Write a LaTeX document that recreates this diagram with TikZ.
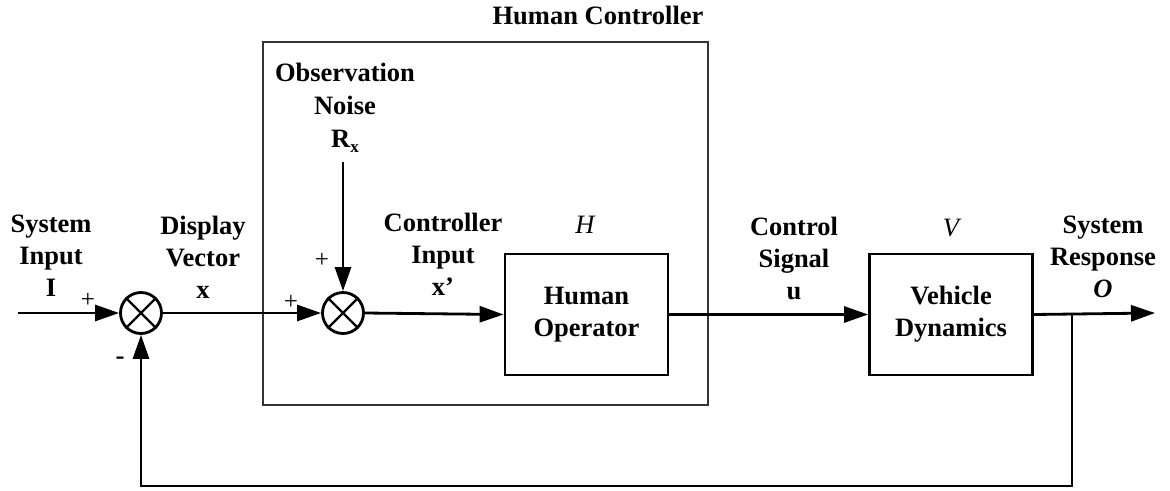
\documentclass[tikz,border=0pt]{standalone}
\usepackage{fontspec}
\setmainfont{Liberation Serif}
\usetikzlibrary{arrows.meta}
\begin{document}
\begin{tikzpicture}[x=1pt,y=-1pt,
  lbl/.style={font=\fontsize{26.5}{32}\selectfont\bfseries, align=center, inner sep=0pt},
  sgn/.style={font=\fontsize{25}{25}\selectfont, inner sep=0pt},
  sig/.style={line width=2.8pt},
  arr/.style={sig,-{Triangle[length=24pt,width=16pt]}},
  blk/.style={draw, line width=2.8pt, minimum width=163pt, minimum height=121pt, inner sep=0pt},
  sumnode/.style={draw, circle, line width=2.8pt, minimum size=41pt, inner sep=0pt},
  hcbox/.style={draw=black!80, line width=1.3pt}]
\useasboundingbox (0,0) rectangle (1170,490);

% Human controller frame
\draw[hcbox] (263,42) rectangle (708,405);
\node[lbl] (hctitle) at (598,15) {Human Controller};

% summing junctions
\node[sumnode] (s1) at (141,313) {};
\node[sumnode] (s2) at (343,313) {};
\foreach \s in {s1,s2}{
  \draw[line width=2.2pt] (\s.45) -- (\s.225);
  \draw[line width=2.2pt] (\s.135) -- (\s.315);
}

% blocks
\node[blk, align=center, font=\fontsize{26.5}{32}\selectfont\bfseries] (ho) at (586.5,314.5) {Human\\Operator};
\node[blk, align=center, font=\fontsize{26.5}{32}\selectfont\bfseries] (vd) at (951,314.5) {Vehicle\\Dynamics};

% labels
\node[lbl] (sysin) at (51,256) {System\\Input\\I};
\node[lbl] (disp) at (203,257) {Display\\Vector\\x};
\node[lbl, font=\fontsize{26.5}{33}\selectfont\bfseries] (obs) at (345,108) {Observation\\Noise\\R\raisebox{-5pt}{\fontsize{17}{17}\selectfont x}};
\node[lbl] (ctrlin) at (443,254) {Controller\\Input\\x’};
\node[lbl] (ctrlsig) at (794,258) {Control\\Signal\\u};
\node[lbl] (sysresp) at (1103,257) {System\\Response\\\textit{O}};
\node[font=\fontsize{26.5}{32}\selectfont\itshape, inner sep=0pt] (hlab) at (585,225) {H};
\node[font=\fontsize{26.5}{32}\selectfont\itshape, inner sep=0pt] (vlab) at (951,228) {V};

% signs
\node[sgn] (p1) at (88,300) {+};
\node[sgn, font=\fontsize{27}{27}\selectfont\bfseries] (m1) at (120,361) {-};
\node[sgn] (p2) at (291,302) {+};
\node[sgn] (p3) at (322,260) {+};

% coordinates
\coordinate (in) at (18,313);
\coordinate (noise) at (343,162);
\coordinate (out) at (1155,313);
\coordinate (br) at (1072,313);
\coordinate (fb1) at (1072,486);
\coordinate (fb2) at (141,486);

% connectors
\draw[arr] (in) -- (s1.west);
\draw[arr] (s1.east) -- (s2.west);
\draw[arr] (noise) -- (s2.north);
\draw[arr] (s2.east) -- (ho.west);
\draw[arr] (ho.east) -- (vd.west);
\draw[arr] (vd.east) -- (out);
\draw[arr] (br) -- (fb1) -- (fb2) -- (s1.south);
\end{tikzpicture}
\end{document}
